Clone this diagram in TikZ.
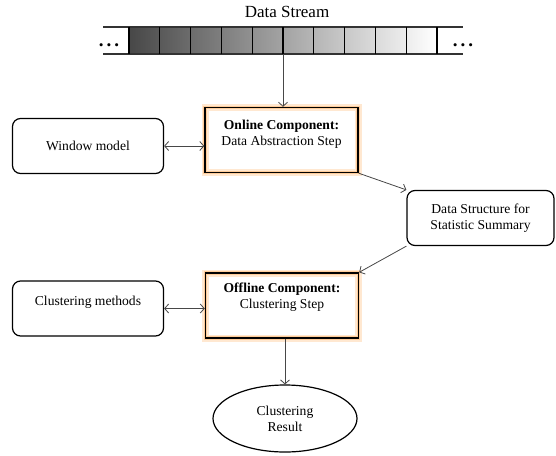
\documentclass[tikz,border=0pt]{standalone}
\usepackage{fontspec}
\setmainfont{Liberation Serif}
\usetikzlibrary{arrows.meta,shapes.geometric}

\tikzset{
  txt/.style={font=\fontsize{13.6}{16}\selectfont, align=center},
  sidebox/.style={draw=black, line width=1.2pt, rounded corners=8pt, minimum width=151pt, minimum height=55pt, txt},
  stepbox/.style={draw=black, line width=1.4pt, minimum width=153pt, minimum height=65pt,
    preaction={draw=orange!18, line width=7pt}, preaction={draw=orange!40, line width=3.5pt}},
  dots/.style={font=\fontsize{19}{20}\selectfont\bfseries},
  arr/.style={draw=black!72, line width=0.8pt, -{Straight Barb[length=4pt,width=9pt]}},
  darr/.style={draw=black!72, line width=0.8pt, {Straight Barb[length=4pt,width=9pt]}-{Straight Barb[length=4pt,width=9pt]}}
}

\begin{document}
\begin{tikzpicture}[x=1pt, y=-1pt]
\useasboundingbox (0,0) rectangle (556,455);

% data stream
\node[font=\fontsize{17}{19}\selectfont] (title) at (287,12) {Data Stream};
\shade[left color=black!72, right color=white] (129,27) rectangle (437,54);
\draw[line width=1.2pt, black!80] (103,27) -- (463,27) (103,54) -- (463,54);
\foreach \i in {0,...,10}
  \draw[line width=1.3pt] ({129+30.8*\i},27) -- ({129+30.8*\i},54);
\node[dots] (ldots) at (109,45) {.\hspace{3pt}.\hspace{3pt}.};
\node[dots] (rdots) at (463,45) {.\hspace{3pt}.\hspace{3pt}.};
\coordinate (streambot) at (283,54);

% boxes
\node[stepbox] (online) at (281.5,140) {};
\node[txt] (onlinetxt) at (281.5,134.5) {\textbf{Online Component:}\\Data Abstraction Step};
\node[sidebox] (window) at (88,146) {Window model};
\node[sidebox, minimum width=147pt] (summary) at (480.5,218) {Data Structure for\\Statistic Summary};
\node[stepbox] (offline) at (282,305.5) {};
\node[txt] (offlinetxt) at (282,297.5) {\textbf{Offline Component:}\\Clustering Step};
\node[sidebox] (methods) at (88,308.5) {};
\node[txt] (methodstxt) at (88,302) {Clustering methods};
\node[ellipse, draw=black, line width=1.2pt, minimum width=144pt, minimum height=67pt, txt] (result) at (285,418.5) {Clustering\\Result};

% connectors
\draw[arr] (streambot) -- (streambot |- online.north);
\draw[darr] (window.east) -- (window.east -| online.west);
\draw[arr] (online.south east) -- (summary.north west);
\draw[arr] (summary.south west) -- (offline.north east);
\draw[darr] (methods.east) -- (methods.east -| offline.west);
\draw[arr] (offline.south -| result.north) -- (result.north);
\end{tikzpicture}
\end{document}
